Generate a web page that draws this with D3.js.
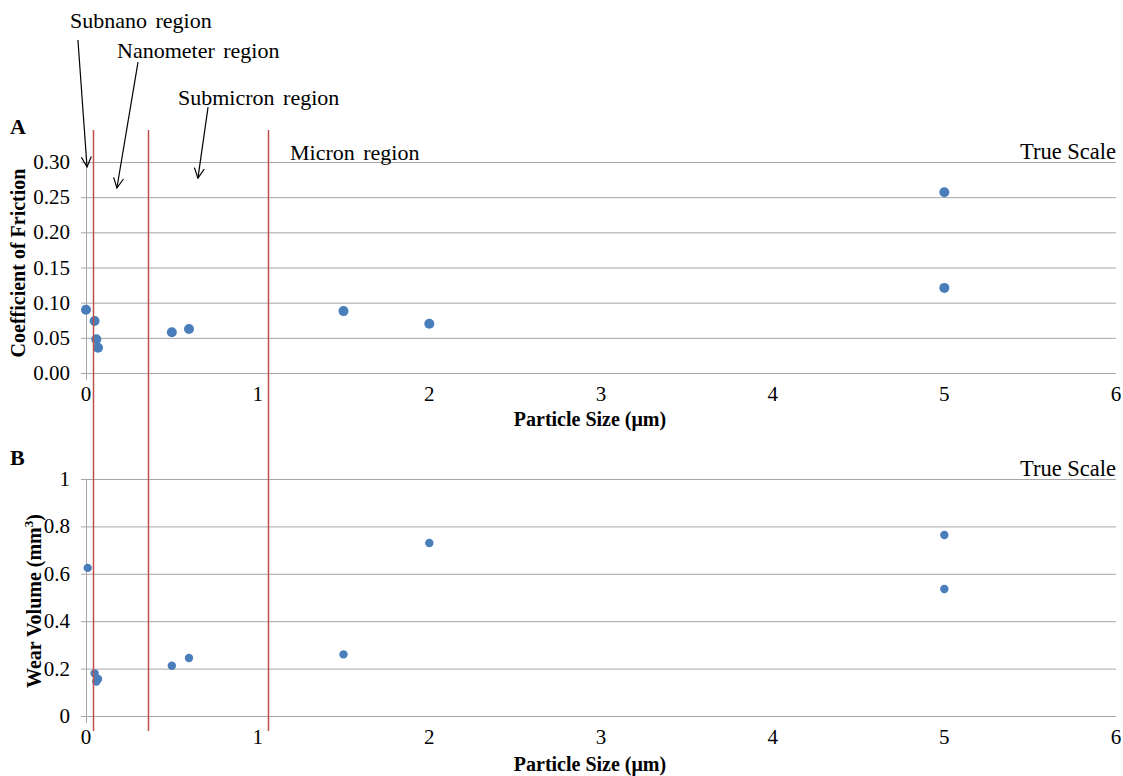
<!DOCTYPE html>
<html><head><meta charset="utf-8">
<script src="https://cdn.jsdelivr.net/npm/d3@7"></script>
<style>body{margin:0;background:#fff}svg{display:block}text{font-family:"Liberation Serif","Times New Roman",serif;fill:#000}</style>
</head><body><svg id="c" width="1123" height="776"></svg>
<script>
// ---- data ----
const frictionX = [0, 0.05, 0.06, 0.07, 0.5, 0.6, 1.5, 2, 5, 5];
const frictionY = [0.090, 0.074, 0.048, 0.036, 0.058, 0.0625, 0.088, 0.070, 0.121, 0.257];
const wearX = [0.01, 0.05, 0.06, 0.07, 0.5, 0.6, 1.5, 2, 5, 5];
const wearY = [0.625, 0.180, 0.145, 0.156, 0.212, 0.245, 0.260, 0.730, 0.764, 0.536];
const xTicks = [0, 1, 2, 3, 4, 5, 6];
const frictionTicks = [0, 0.05, 0.10, 0.15, 0.20, 0.25, 0.30];
const wearTicks = [0, 0.2, 0.4, 0.6, 0.8, 1];
const wearTickLabels = ["0", "0.2", "0.4", "0.6", "0.8", "1"];
const regionBounds = [0.04, 0.36, 1.06];
const regionNames = ["Subnano region", "Nanometer region", "Submicron region", "Micron region"];

const svg = d3.select("#c");
const x = d3.scaleLinear().domain([0, 6]).range([86, 1116]);
const yA = d3.scaleLinear().domain([0, 0.3]).range([373, 162]);
const yB = d3.scaleLinear().domain([0, 1]).range([716, 479]);
const grid = "#a6a6a6", dot = "#4a7ebb", red = "#c0504d";

function panel(y, ticks, labels, fmt, xs, ys, r, xLabelY) {
  const g = svg.append("g");
  g.selectAll("line.g").data(ticks).join("line")
    .attr("x1", x(0) - 5).attr("x2", x(6))
    .attr("y1", d => y(d) + 0.5).attr("y2", d => y(d) + 0.5)
    .attr("stroke", grid).attr("stroke-width", 1);
  g.append("line").attr("x1", x(0) + 0.5).attr("x2", x(0) + 0.5)
    .attr("y1", y(ticks[ticks.length - 1])).attr("y2", y(0) + 7)
    .attr("stroke", grid);
  g.selectAll("text.yt").data(ticks).join("text")
    .attr("x", 70).attr("y", d => y(d) + 7).attr("text-anchor", "end")
    .style("font-size", "21px").text((d, i) => labels ? labels[i] : fmt(d));
  g.selectAll("text.xt").data(xTicks).join("text")
    .attr("x", d => x(d)).attr("y", y(0) + 28).attr("text-anchor", "middle")
    .style("font-size", "21px").text(d => d);
  g.selectAll("circle").data(xs.map((v, i) => [v, ys[i]])).join("circle")
    .attr("cx", d => x(d[0])).attr("cy", d => y(d[1])).attr("r", r).attr("fill", dot);
  g.append("text").attr("x", 590).attr("y", xLabelY).attr("text-anchor", "middle")
    .style("font-size", "20px").style("font-weight", "bold").text("Particle Size (μm)");
  g.append("text").attr("x", x(6)).attr("y", y(ticks[ticks.length - 1]) - 3).attr("text-anchor", "end")
    .style("font-size", "22.5px").text("True Scale");
}

panel(yA, frictionTicks, null, d3.format(".2f"), frictionX, frictionY, 5, 426);
panel(yB, wearTicks, wearTickLabels, null, wearX, wearY, 4.2, 771);

svg.append("text").attr("transform", `translate(25,263) rotate(-90)`)
  .attr("text-anchor", "middle").style("font-size", "20px").style("font-weight", "bold")
  .text("Coefficient of Friction");
const wt = svg.append("text").attr("transform", `translate(41,601) rotate(-90)`)
  .attr("text-anchor", "middle").style("font-size", "20px").style("font-weight", "bold");
wt.append("tspan").text("Wear Volume (mm");
wt.append("tspan").attr("dy", -8).style("font-size", "13px").text("3");
wt.append("tspan").attr("dy", 8).text(")");

svg.append("text").attr("x", 10).attr("y", 134).style("font-size", "22px").style("font-weight", "bold").text("A");
svg.append("text").attr("x", 10).attr("y", 465).style("font-size", "22px").style("font-weight", "bold").text("B");

svg.selectAll("line.rb").data(regionBounds).join("line")
  .attr("x1", d => Math.round(x(d)) + 0.5).attr("x2", d => Math.round(x(d)) + 0.5)
  .attr("y1", 130).attr("y2", 731).attr("stroke", red).attr("stroke-width", 1.5);

const defs = svg.append("defs");
defs.append("marker").attr("id", "ah").attr("viewBox", "0 0 12 12").attr("refX", 11).attr("refY", 6)
  .attr("markerWidth", 12).attr("markerHeight", 12).attr("markerUnits", "userSpaceOnUse").attr("orient", "auto")
  .append("path").attr("d", "M1,1 L11,6 L1,11").attr("fill", "none").attr("stroke", "#000").attr("stroke-width", 1.2);

const labelPos = [[70, 28], [117, 58], [178, 105], [290, 160]];
svg.selectAll("text.rn").data(regionNames).join("text")
  .attr("x", (d, i) => labelPos[i][0]).attr("y", (d, i) => labelPos[i][1])
  .style("font-size", "22px").style("word-spacing", "3px").text(d => d);

const arrows = [[[-0.047, 0.4735], [0.006, 0.293]], [[0.303, 0.442], [0.180, 0.263]], [[0.711, 0.378], [0.652, 0.277]]];
svg.selectAll("line.ar").data(arrows).join("line")
  .attr("x1", d => x(d[0][0])).attr("y1", d => yA(d[0][1]))
  .attr("x2", d => x(d[1][0])).attr("y2", d => yA(d[1][1]))
  .attr("stroke", "#000").attr("stroke-width", 1.2).attr("marker-end", "url(#ah)");
</script></body></html>
